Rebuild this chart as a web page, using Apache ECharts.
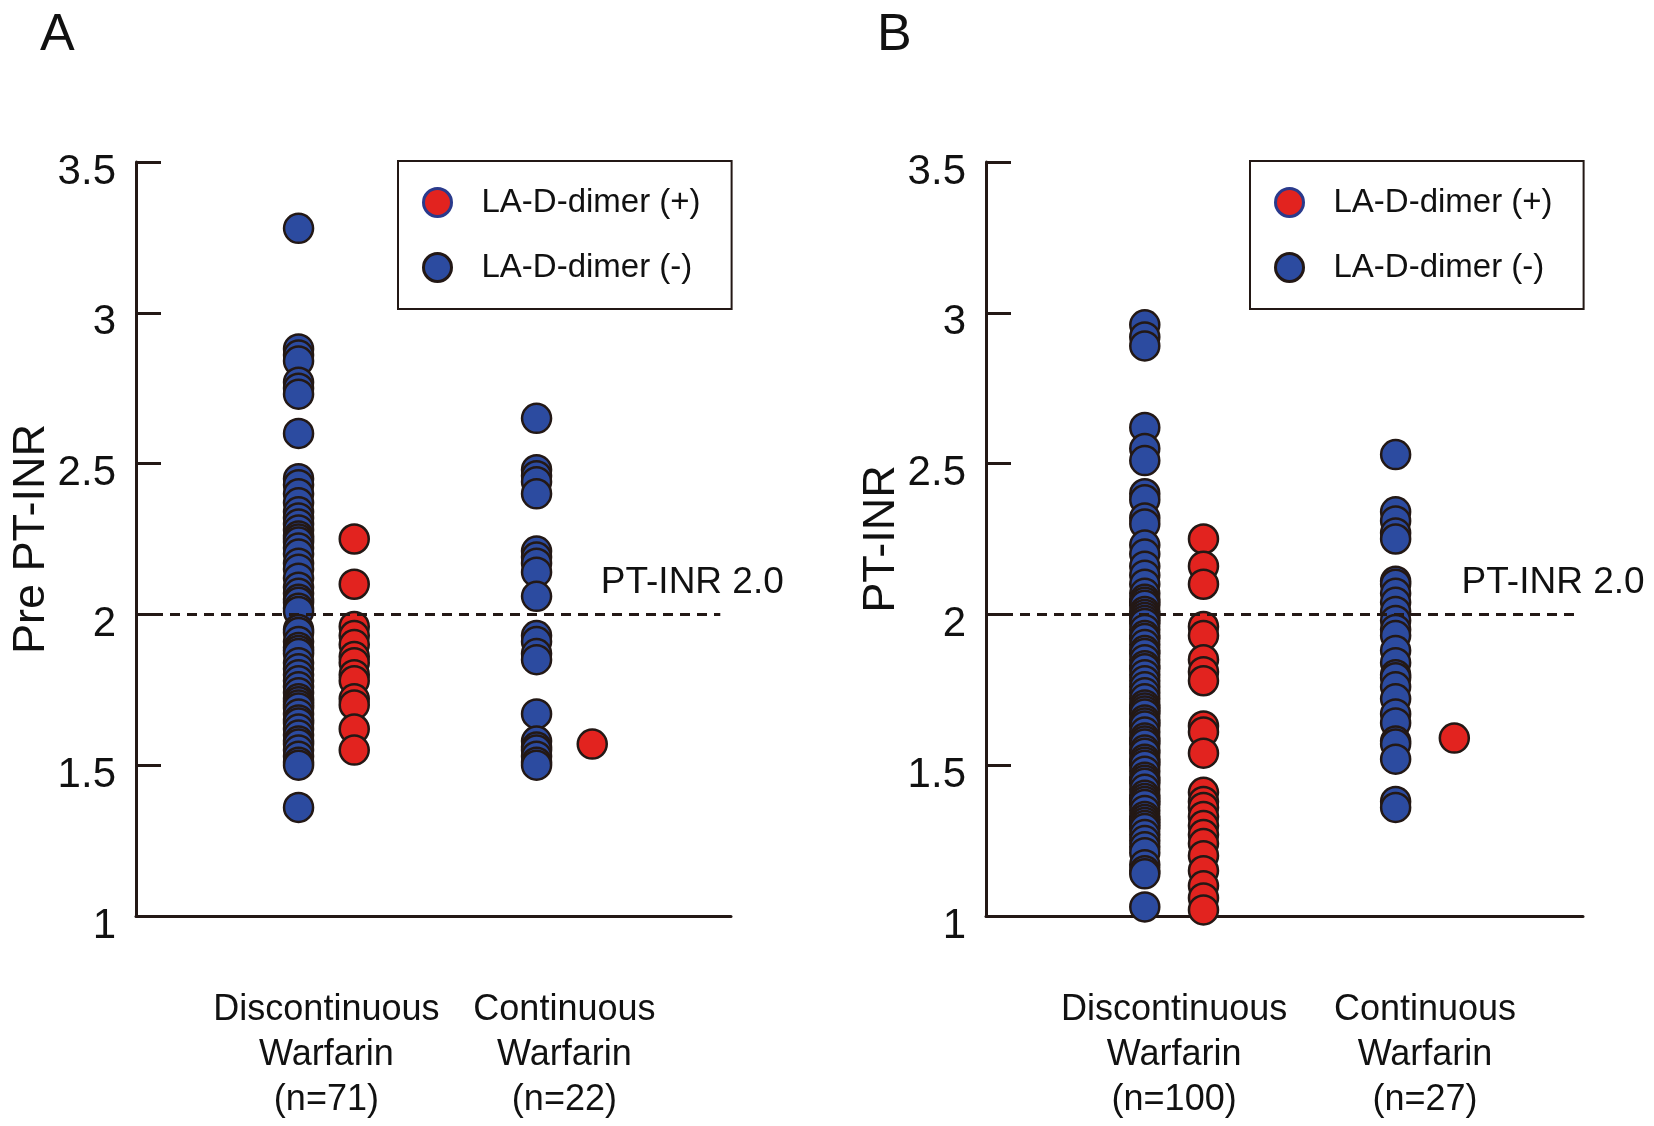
<!DOCTYPE html>
<html>
<head>
<meta charset="utf-8">
<title>PT-INR by LA-D-dimer</title>
<script src="https://cdn.jsdelivr.net/npm/echarts@6/dist/echarts.min.js"></script>
<style>
  html, body { margin: 0; padding: 0; background: #fff; }
  #main { width: 1654px; height: 1126px; }
</style>
</head>
<body>
<div id="main"></div>
<script>
// categories and counts
var groupNames = ['Discontinuous\nWarfarin', 'Continuous\nWarfarin'];
var countsA = [71, 22];
var countsB = [100, 27];
var yTicks = [1, 1.5, 2, 2.5, 3, 3.5];
var cutoff = 2.0;

// panel A: pre PT-INR
var discNegA = [3.28, 2.88, 2.86, 2.84, 2.77, 2.75, 2.73, 2.60, 2.45, 2.43, 2.40, 2.37,
  2.34, 2.32, 2.30, 2.28, 2.26, 2.25, 2.24, 2.22, 2.20, 2.17, 2.15, 2.12, 2.09, 2.07,
  2.05, 2.04, 2.02, 2.01, 1.95, 1.94, 1.91, 1.89, 1.88, 1.87, 1.84, 1.82, 1.80, 1.78,
  1.76, 1.74, 1.72, 1.71, 1.70, 1.69, 1.67, 1.65, 1.64, 1.62, 1.60, 1.58, 1.57, 1.55,
  1.53, 1.51, 1.50, 1.36];
var discPosA = [2.25, 2.10, 1.96, 1.93, 1.90, 1.86, 1.84, 1.80, 1.78, 1.72, 1.70, 1.62, 1.55];
var contNegA = [2.65, 2.48, 2.46, 2.44, 2.40, 2.21, 2.19, 2.17, 2.14, 2.06, 1.93, 1.91,
  1.87, 1.85, 1.67, 1.58, 1.56, 1.55, 1.53, 1.51, 1.50];
var contPosA = [1.57];

// panel B: PT-INR
var discNegB = [2.96, 2.92, 2.89, 2.62, 2.55, 2.51, 2.40, 2.38, 2.32, 2.30, 2.23, 2.20,
  2.16, 2.13, 2.10, 2.07, 2.05, 2.04, 2.03, 2.01, 2.00, 1.99, 1.98, 1.97, 1.95, 1.93,
  1.92, 1.90, 1.88, 1.87, 1.85, 1.83, 1.82, 1.80, 1.78, 1.76, 1.74, 1.72, 1.70, 1.69,
  1.68, 1.67, 1.65, 1.64, 1.63, 1.61, 1.59, 1.58, 1.57, 1.55, 1.54, 1.52, 1.51, 1.50,
  1.48, 1.46, 1.45, 1.44, 1.42, 1.40, 1.39, 1.38, 1.37, 1.35, 1.33, 1.32, 1.31, 1.30,
  1.29, 1.27, 1.25, 1.23, 1.21, 1.17, 1.15, 1.14, 1.03];
var discPosB = [2.25, 2.16, 2.10, 1.96, 1.93, 1.85, 1.81, 1.78, 1.63, 1.61, 1.54, 1.41,
  1.38, 1.36, 1.33, 1.30, 1.27, 1.24, 1.20, 1.15, 1.10, 1.06, 1.02];
var contNegB = [2.53, 2.34, 2.31, 2.27, 2.25, 2.11, 2.10, 2.07, 2.04, 2.01, 1.98, 1.95,
  1.93, 1.88, 1.84, 1.80, 1.79, 1.76, 1.72, 1.67, 1.64, 1.58, 1.57, 1.52, 1.38, 1.36];
var contPosB = [1.59];

var POS = 'LA-D-dimer (+)';
var NEG = 'LA-D-dimer (-)';
var RED = '#e2231f';
var BLUE = '#2c4ba0';
var EDGE = '#231815';
var INK = '#111111';
var FONT = "Arial, 'Liberation Sans', sans-serif";

// x position of a column: group index (1, 2) plus a side offset
function column(values, group, side) {
  return values.map(function (v) { return [group + side * 0.117, v]; });
}

function groupLabels(counts) {
  return groupNames.map(function (g, i) { return g + '\n(n=' + counts[i] + ')'; });
}

function panel(idx, opts) {
  var labels = groupLabels(opts.counts);
  var xAxis = {
    gridIndex: idx, type: 'value', min: opts.xMin, max: opts.xMax,
    axisLine: { show: true, lineStyle: { color: EDGE, width: 3 } },
    axisTick: { show: false },
    splitLine: { show: false },
    axisLabel: {
      customValues: [1, 2],
      formatter: function (v) { return labels[Math.round(v) - 1] || ''; },
      fontSize: 36, lineHeight: 45, color: INK, fontFamily: FONT, margin: 72
    }
  };
  var yAxis = {
    gridIndex: idx, type: 'value', min: yTicks[0], max: yTicks[yTicks.length - 1], interval: 0.5,
    name: opts.yName, nameLocation: 'middle', nameRotate: 90, nameGap: 82,
    nameTextStyle: { fontSize: 45, color: INK, fontFamily: FONT },
    axisLine: { show: true, lineStyle: { color: EDGE, width: 3 } },
    axisTick: { show: true, inside: true, length: 25, lineStyle: { color: EDGE, width: 3 } },
    splitLine: { show: false },
    axisLabel: {
      fontSize: 42, lineHeight: 20, verticalAlign: 'top',
      color: INK, fontFamily: FONT, margin: 20
    }
  };
  var symbolStyle = function (c) { return { color: c, borderColor: EDGE, borderWidth: 2.5, opacity: 1 }; };
  var series = [{
    name: NEG, type: 'scatter', xAxisIndex: idx, yAxisIndex: idx,
    symbol: 'circle', symbolSize: 29, itemStyle: symbolStyle(BLUE),
    data: column(opts.discNeg, 1, -1).concat(column(opts.contNeg, 2, -1)),
    markLine: {
      silent: true, symbol: ['none', 'none'], label: { show: false },
      lineStyle: { type: [10, 7], width: 3, color: EDGE },
      data: [[{ coord: [opts.xMin, cutoff] }, { coord: [opts.dashEnd, cutoff] }]]
    },
    markPoint: {
      silent: true, symbol: 'circle', symbolSize: 0,
      data: [{ coord: [opts.textX, cutoff] }],
      label: {
        show: true, position: 'right', distance: 0, offset: [0, -32],
        formatter: 'PT-INR 2.0', fontSize: 37, color: INK, fontFamily: FONT
      }
    }
  }, {
    name: POS, type: 'scatter', xAxisIndex: idx, yAxisIndex: idx,
    symbol: 'circle', symbolSize: 29, itemStyle: symbolStyle(RED),
    data: column(opts.discPos, 1, 1).concat(column(opts.contPos, 2, 1))
  }];
  var legend = {
    left: opts.legendLeft, top: 161, orient: 'vertical',
    padding: [25, 31, 25, 24], itemGap: 32, itemWidth: 28, itemHeight: 28,
    borderColor: EDGE, borderWidth: 2, icon: 'circle', selectedMode: false,
    textStyle: { fontSize: 33, lineHeight: 32, color: INK, fontFamily: FONT, padding: [0, 0, 0, 25] },
    data: [
      { name: POS, itemStyle: { color: RED, borderColor: '#2a3a8c', borderWidth: 3 } },
      { name: NEG, itemStyle: { color: BLUE, borderColor: EDGE, borderWidth: 3 } }
    ]
  };
  return { xAxis: xAxis, yAxis: yAxis, series: series, legend: legend };
}

var pA = panel(0, {
  counts: countsA, yName: 'Pre PT-INR', xMin: 0.2, xMax: 2.7, dashEnd: 2.655, textX: 2.153,
  legendLeft: 398, discNeg: discNegA, discPos: discPosA, contNeg: contNegA, contPos: contPosA
});
var pB = panel(1, {
  counts: countsB, yName: 'PT-INR', xMin: 0.25, xMax: 2.63, dashEnd: 2.597, textX: 2.146,
  legendLeft: 1250, discNeg: discNegB, discPos: discPosB, contNeg: contNegB, contPos: contPosB
});

var chart = echarts.init(document.getElementById('main'));
chart.setOption({
  animation: false,
  backgroundColor: '#fff',
  title: [
    { text: 'A', left: 40, top: 10, padding: 0, textStyle: { fontSize: 52, fontWeight: 'normal', color: INK, fontFamily: FONT } },
    { text: 'B', left: 877, top: 10, padding: 0, textStyle: { fontSize: 52, fontWeight: 'normal', color: INK, fontFamily: FONT } }
  ],
  grid: [
    { left: 136, top: 162, right: 923, bottom: 210 },
    { left: 986, top: 162, right: 71, bottom: 210 }
  ],
  legend: [pA.legend, pB.legend],
  xAxis: [pA.xAxis, pB.xAxis],
  yAxis: [pA.yAxis, pB.yAxis],
  series: pA.series.concat(pB.series)
});
</script>
</body>
</html>
